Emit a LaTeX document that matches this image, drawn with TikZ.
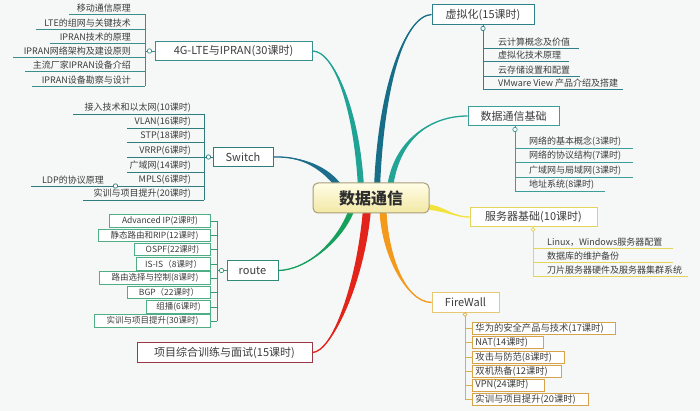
\documentclass[tikz,border=0pt]{standalone}
\usepackage{fontspec}
\setmainfont{Noto Sans CJK SC}
\usetikzlibrary{calc}
\definecolor{bgc}{HTML}{F6F7F7}
\definecolor{txt}{HTML}{3C3C3C}
\definecolor{txtd}{HTML}{2E2E2E}
\definecolor{ltec}{HTML}{3B8E8E}
\definecolor{swc}{HTML}{2F7C7E}
\definecolor{rtc}{HTML}{2F8A78}
\definecolor{rtbox}{HTML}{4FAE86}
\definecolor{rtl}{HTML}{3A9A70}
\definecolor{projc}{HTML}{9A3848}
\definecolor{virc}{HTML}{2F8088}
\definecolor{basec}{HTML}{3A9E9A}
\definecolor{srvc}{HTML}{E3D45A}
\definecolor{fwc}{HTML}{E6C870}
\definecolor{fwbx}{HTML}{D6A24A}
\definecolor{fwl}{HTML}{D9B050}
\definecolor{ctrb}{HTML}{A89E78}
\definecolor{ctrtop}{HTML}{FFFDE6}
\definecolor{ctrbot}{HTML}{F2E8A4}
\definecolor{brLte}{HTML}{1FA394}
\definecolor{brSw}{HTML}{1D6D8C}
\definecolor{brVirt}{HTML}{166F86}
\definecolor{brBase}{HTML}{23A596}
\definecolor{brSrv}{HTML}{F2E33C}
\definecolor{brFw}{HTML}{F39A1C}
\definecolor{brProj}{HTML}{E3241B}
\definecolor{brRt}{HTML}{17A05C}
% tapered branch: color, thin end, c1, c2, thick end, dx, dy
\newcommand\brch[7]{%
  \fill[#1] #2 .. controls #3 and ($#4+(#6,#7)$) .. ($#5+(#6,#7)$) -- ($#5-(#6,#7)$) .. controls ($#4-(#6,#7)$) and #3 .. #2;
  \draw[#1,line width=1.3pt] #2 .. controls #3 and #4 .. #5;}
\newcommand\fwt[2]{\makebox[#1][l]{#2}}
\begin{document}
\begin{tikzpicture}[x=1pt,y=-1pt,
  mainbox/.style={draw=#1, line width=1pt, fill=white, minimum height=19.5pt, inner sep=0pt,
    font=\fontsize{11}{12}\selectfont, text=txt},
  leaf/.style={inner xsep=1pt, inner ysep=1.4pt, font=\fontsize{9}{10}\selectfont, text=txt},
  rbox/.style={draw=rtbox, line width=0.9pt, fill=white, minimum height=12.5pt, inner xsep=2pt, inner ysep=0pt,
    font=\fontsize{8.5}{9}\selectfont, text=txt, anchor=east},
  fwbox/.style={draw=fwbx, line width=0.9pt, fill=white, minimum height=12pt, inner xsep=3pt, inner ysep=0pt,
    font=\fontsize{9.3}{10}\selectfont, text=txt, anchor=west},
  lk/.style={draw=#1, line width=0.9pt},
  knob/.style={draw=#1, line width=0.7pt, fill=white}]
\fill[bgc] (0,0) rectangle (700,411);
\useasboundingbox (0,0) rectangle (700,411);

% ---------- main topic boxes ----------
\node[mainbox=ltec, minimum width=157pt] (lte) at (233.5,51) {4G-LTE与IPRAN(30课时)};
\node[mainbox=swc, minimum width=60pt] (sw) at (243,157) {Switch};
\node[mainbox=rtc, minimum width=51pt] (rt) at (252.5,270.5) {route};
\node[mainbox=projc, minimum width=175pt] (proj) at (224.5,352.5) {项目综合训练与面试(15课时)};
\node[mainbox=virc, minimum width=102pt] (virt) at (483,14.5) {虚拟化(15课时)};
\node[mainbox=basec, minimum width=91pt] (base) at (513.5,116) {数据通信基础};
\node[mainbox=srvc, minimum width=127pt] (srv) at (533.5,217) {服务器基础(10课时)};
\node[mainbox=fwc, minimum width=67pt] (fw) at (465.5,302.5) {FireWall};

% ---------- branches ----------
\coordinate (b1) at (361,188);
\coordinate (b2) at (340,188);
\coordinate (b3) at (377,188);
\coordinate (b4) at (390,188);
\coordinate (b5) at (424,207);
\coordinate (b6) at (383,209);
\coordinate (b7) at (367,209);
\coordinate (b8) at (352,209);
\brch{brLte}{(lte.east)}{(334,51)}{(357,110)}{(b1)}{3}{0}
\brch{brSw}{(sw.east)}{(302,156)}{(326,168)}{(b2)}{2.2}{-2.2}
\brch{brVirt}{(virt.west)}{(405,16)}{(381,85)}{(b3)}{3}{0}
\brch{brBase}{(base.west)}{(430,116)}{(396,140)}{(b4)}{3}{0}
\brch{brSrv}{(srv.west)}{(452,217)}{(443,207)}{(b5)}{0}{2.8}
\brch{brFw}{(fw.west)}{(405,302)}{(384,252)}{(b6)}{3.5}{0}
\brch{brProj}{(proj.east)}{(332,352)}{(361,282)}{(b7)}{4}{0}
\brch{brRt}{(rt.east)}{(306,270)}{(340,242)}{(b8)}{3}{0}

% ---------- central topic ----------
\node[draw=ctrb, line width=1pt, rounded corners=5pt, top color=ctrtop, bottom color=ctrbot,
  minimum width=116pt, minimum height=30pt, inner sep=0pt,
  font=\fontsize{16}{18}\selectfont\bfseries, text=txtd] (ctr) at (371,198) {数据通信};

% ---------- 4G-LTE children ----------
\node[leaf, anchor=south east] (l1) at (132,14) {移动通信原理};
\node[leaf, anchor=south east] (l2) at (132,29) {LTE的组网与关键技术};
\node[leaf, anchor=south east] (l3) at (132,43) {IPRAN技术的原理};
\node[leaf, anchor=south east] (l4) at (132,57) {IPRAN网络架构及建设原则};
\node[leaf, anchor=south east] (l5) at (132,71) {主流厂家IPRAN设备介绍};
\node[leaf, anchor=south east] (l6) at (132,86) {IPRAN设备勘察与设计};
\draw[lk=ltec] (69,14) -- (145,14);
\draw[lk=ltec] (36,29) -- (145,29);
\draw[lk=ltec] (50,43) -- (145,43);
\draw[lk=ltec] (13,57) -- (145,57);
\draw[lk=ltec] (25,71) -- (145,71);
\draw[lk=ltec] (32,86) -- (145,86);
\draw[lk=ltec] (145,14) -- (145,86);
\draw[lk=ltec] (145,51) -- (lte.west);
\draw[knob=ltec] (149.5,51) circle (2.2);

% ---------- Switch children ----------
\node[leaf, anchor=south east] (s1) at (192,114) {接入技术和以太网(10课时)};
\node[leaf, anchor=south east] (s2) at (192,128) {VLAN(16课时)};
\node[leaf, anchor=south east] (s3) at (192,142) {STP(18课时)};
\node[leaf, anchor=south east] (s4) at (192,157) {VRRP(6课时)};
\node[leaf, anchor=south east] (s5) at (192,172) {广域网(14课时)};
\node[leaf, anchor=south east] (s6) at (192,186) {MPLS(6课时)};
\node[leaf, anchor=south east] (s7) at (192,200) {实训与项目提升(20课时)};
\node[leaf, anchor=south east] (ldp) at (105,186) {LDP的协议原理};
\draw[lk=swc] (73,114) -- (204,114);
\draw[lk=swc] (127,128) -- (204,128);
\draw[lk=swc] (127,142) -- (204,142);
\draw[lk=swc] (127,157) -- (204,157);
\draw[lk=swc] (127,172) -- (204,172);
\draw[lk=swc] (118,186) -- (204,186);
\draw[lk=swc] (83,200) -- (204,200);
\draw[lk=swc] (31,186) -- (113,186);
\draw[knob=swc] (115.5,186) circle (2.2);
\draw[lk=swc] (204,114) -- (204,200);
\draw[lk=swc] (204,157) -- (sw.west);
\draw[knob=swc] (208.5,157) circle (2.2);

% ---------- route children ----------
\node[rbox, minimum width=101pt] (r1) at (211,221) {Advanced IP(2课时)};
\node[rbox, minimum width=112pt] (r2) at (211,235.5) {静态路由和RIP(12课时)};
\node[rbox, minimum width=76pt] (r3) at (211,249.5) {OSPF(22课时)};
\node[rbox, minimum width=74pt] (r4) at (211,264) {IS-IS（8课时）};
\node[rbox, minimum width=111pt] (r5) at (211,278) {路由选择与控制(8课时)};
\node[rbox, minimum width=83pt] (r6) at (211,292.5) {BGP（22课时）};
\node[rbox, minimum width=64pt] (r7) at (211,307) {组播(6课时)};
\node[rbox, minimum width=116pt] (r8) at (211,321) {实训与项目提升(30课时)};
\foreach \n in {r1,r2,r3,r4,r5,r6,r7,r8} {\draw[lk=rtl] (\n.east) -- (\n.east -| 217,0);}
\draw[lk=rtl] (217,221) -- (217,321);
\draw[lk=rtl] (217,270.5) -- (rt.west);
\draw[knob=rtl] (221.5,270.5) circle (2.2);

% ---------- 虚拟化 children ----------
\node[leaf, anchor=south west] (v1) at (497,48) {云计算概念及价值};
\node[leaf, anchor=south west] (v2) at (497,61) {虚拟化技术原理};
\node[leaf, anchor=south west] (v3) at (497,76) {云存储设置和配置};
\node[leaf, anchor=south west] (v4) at (497,89) {VMware View 产品介绍及搭建};
\draw[lk=virc] (483,48) -- (579,48);
\draw[lk=virc] (483,61) -- (569,61);
\draw[lk=virc] (483,76) -- (580,76);
\draw[lk=virc] (483,89) -- (623,89);
\draw[lk=virc] (virt.south) -- (483,89);
\draw[knob=virc] (483,28.5) circle (2.2);

% ---------- 数据通信基础 children ----------
\node[leaf, anchor=south west] (d1) at (528,148) {网络的基本概念(3课时)};
\node[leaf, anchor=south west] (d2) at (528,162) {网络的协议结构(7课时)};
\node[leaf, anchor=south west] (d3) at (528,177) {广域网与局域网(3课时)};
\node[leaf, anchor=south west] (d4) at (528,191) {地址系统(8课时)};
\draw[lk=basec] (515,148) -- (633,148);
\draw[lk=basec] (515,162) -- (633,162);
\draw[lk=basec] (515,177) -- (633,177);
\draw[lk=basec] (515,191) -- (605,191);
\draw[lk=basec] (515,126) -- (515,191);
\draw[knob=basec] (515,129.5) circle (2.2);

% ---------- 服务器基础 children ----------
\node[leaf, anchor=south west] (e1) at (546,248) {Linux，Windows服务器配置};
\node[leaf, anchor=south west] (e2) at (546,262) {数据库的维护备份};
\node[leaf, anchor=south west] (e3) at (546,276) {刀片服务器硬件及服务器集群系统};
\draw[lk=srvc] (533,248) -- (673,248);
\draw[lk=srvc] (533,262) -- (673,262);
\draw[lk=srvc] (533,276) -- (688,276);
\draw[lk=srvc] (533,227) -- (533,276);
\draw[knob=srvc] (533,229.5) circle (1.8);

% ---------- FireWall children ----------
\node[fwbox] (f1) at (472,328.5) {\fwt{137pt}{华为的安全产品与技术(17课时)}};
\node[fwbox] (f2) at (472,342.5) {\fwt{65pt}{NAT(14课时)}};
\node[fwbox] (f3) at (472,357) {\fwt{86pt}{攻击与防范(8课时)}};
\node[fwbox] (f4) at (472,371) {\fwt{83pt}{双机热备(12课时)}};
\node[fwbox] (f5) at (472,385) {\fwt{66pt}{VPN(24课时)}};
\node[fwbox] (f6) at (472,399) {\fwt{110pt}{实训与项目提升(20课时)}};
\foreach \n in {f1,f2,f3,f4,f5,f6} {\draw[lk=fwl] (\n.west) -- (\n.west -| 465,0);}
\draw[lk=fwl] (465,312) -- (465,399);
\draw[knob=fwl] (465,314.5) circle (1.8);
\end{tikzpicture}
\end{document}
